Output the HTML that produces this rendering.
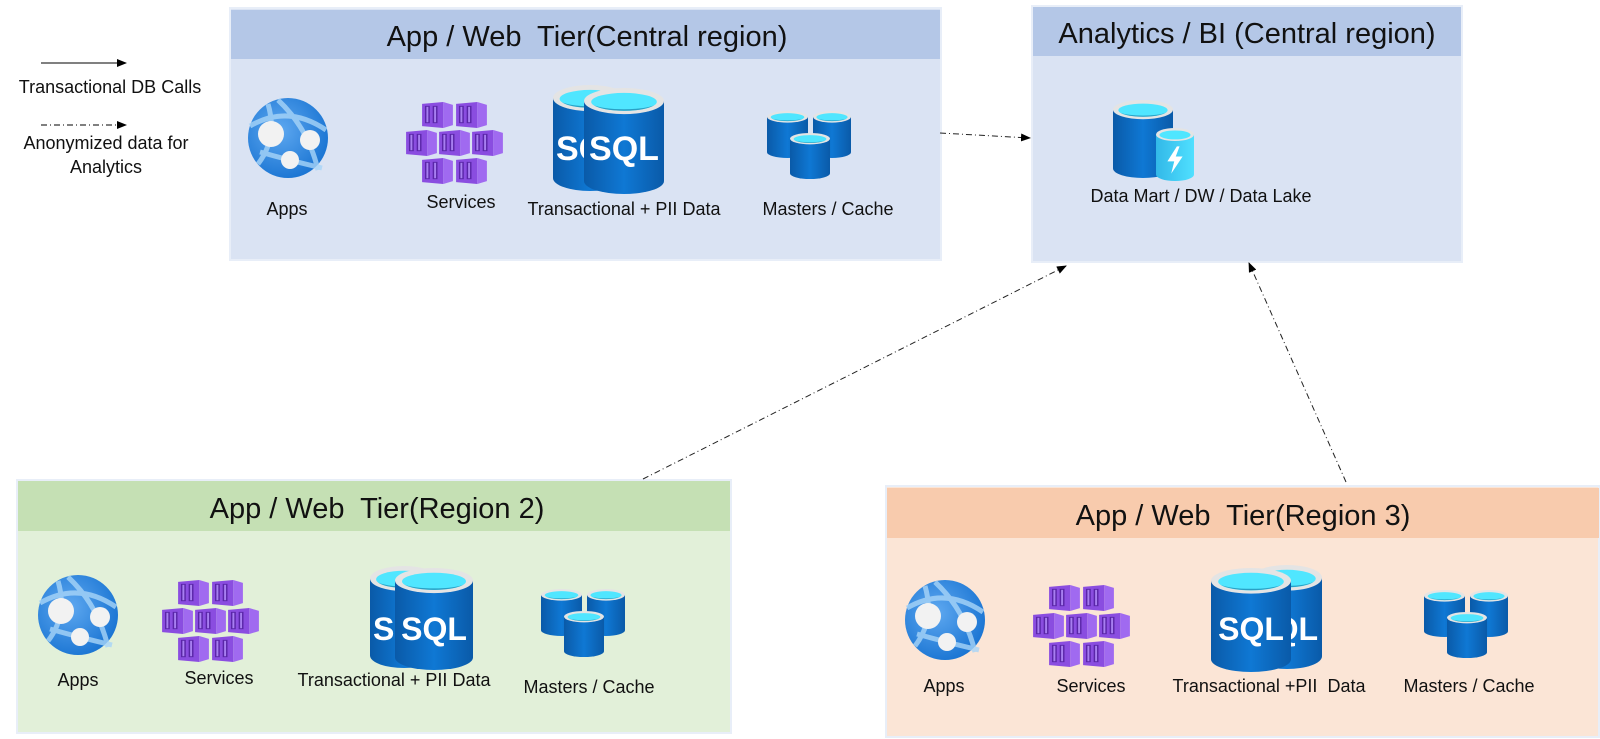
<!DOCTYPE html>
<html><head><meta charset="utf-8"><style>
html,body{margin:0;padding:0;background:#fff}
svg{display:block}
text{font-family:"Liberation Sans",sans-serif;fill:#111}
.h{font-size:29px;text-anchor:middle}
.l{font-size:18px;text-anchor:middle}
</style></head><body>
<svg width="1600" height="739" viewBox="0 0 1600 739" xmlns="http://www.w3.org/2000/svg">
<defs>
<linearGradient id="bg" x1="0" x2="1" y1="0" y2="0">
<stop offset="0" stop-color="#0a5aa8"/><stop offset="0.5" stop-color="#0f78d4"/><stop offset="1" stop-color="#0a5aa8"/></linearGradient>
<linearGradient id="cg" x1="0" x2="1" y1="0" y2="0">
<stop offset="0" stop-color="#32b8e8"/><stop offset="1" stop-color="#50e0ff"/></linearGradient>
<radialGradient id="gg" cx="0.4" cy="0.4" r="0.7"><stop offset="0" stop-color="#5ea8f0"/><stop offset="1" stop-color="#1470d0"/></radialGradient>
<symbol id="cyl" viewBox="0 0 100 130" preserveAspectRatio="none">
<path d="M0,16 L0,114 A50,16 0 0 0 100,114 L100,16 Z" fill="url(#bg)"/>
<ellipse cx="50" cy="16" rx="50" ry="16" fill="#e4e4e4"/>
<ellipse cx="50" cy="17" rx="41" ry="11" fill="#50e6ff"/>
<path d="M12,21 A41,8 0 0 0 88,21 A41,11 0 0 1 12,21Z" fill="#2a9fc4"/>
</symbol>
<symbol id="cylc" viewBox="0 0 100 130" preserveAspectRatio="none">
<path d="M0,16 L0,114 A50,16 0 0 0 100,114 L100,16 Z" fill="url(#cg)"/>
<ellipse cx="50" cy="16" rx="50" ry="16" fill="#e4e4e4"/>
<ellipse cx="50" cy="17" rx="41" ry="11" fill="#50e6ff"/>
<path d="M55,45 L30,82 L48,82 L40,112 L70,70 L52,70 L62,45Z" fill="#fff"/>
</symbol>
<symbol id="globe" viewBox="-41 -41 82 82">
<circle r="40" fill="url(#gg)"/>
<path d="M-38,-12 Q0,-34 38,-8 M-20,-34 Q-10,0 -30,26 M-28,14 Q0,22 34,30 M-10,-38 Q20,-10 30,32" stroke="#a8d4f8" stroke-width="5" fill="none" opacity="0.8"/>
<circle cx="-17" cy="-4" r="13" fill="#f2f2f2"/>
<circle cx="22" cy="2" r="10" fill="#f2f2f2"/>
<circle cx="2" cy="22" r="9" fill="#f2f2f2"/>
</symbol>
<symbol id="cube" viewBox="0 0 32 27">
<path d="M0,2 L22,0 L22,27 L0,25Z" fill="#8a4de0"/>
<path d="M22,0 L32,3 L32,24 L22,27Z" fill="#a06af0"/>
<rect x="3" y="4" width="5" height="18" fill="#5a26a8"/>
<rect x="11" y="4" width="5" height="18" fill="#5a26a8"/>
<rect x="4.5" y="5" width="2" height="16" fill="#a77ff0"/>
<rect x="12.5" y="5" width="2" height="16" fill="#a77ff0"/>
</symbol>
<symbol id="svc" viewBox="0 0 98 83">
<use href="#cube" x="16" y="0" width="31" height="26"/>
<use href="#cube" x="50" y="0" width="31" height="26"/>
<use href="#cube" x="0" y="28" width="31" height="26"/>
<use href="#cube" x="33" y="28" width="31" height="26"/>
<use href="#cube" x="66" y="28" width="31" height="26"/>
<use href="#cube" x="16" y="56" width="31" height="26"/>
<use href="#cube" x="50" y="56" width="31" height="26"/>
</symbol>
<symbol id="mst" viewBox="0 0 84 68">
<use href="#cyl" x="0" y="0" width="41" height="47"/>
<use href="#cyl" x="46" y="0" width="38" height="47"/>
<use href="#cyl" x="23" y="22" width="40" height="46"/>
</symbol>
<marker id="ah" markerWidth="10" markerHeight="8" refX="9" refY="4" orient="auto" markerUnits="userSpaceOnUse">
<path d="M0,0 L10,4 L0,8Z" fill="#000"/></marker>
</defs>

<!-- legend -->
<line x1="41" y1="63" x2="126" y2="63" stroke="#000" stroke-width="1" marker-end="url(#ah)"/>
<text class="l" x="110" y="93">Transactional DB Calls</text>
<line x1="41" y1="125" x2="126" y2="125" stroke="#000" stroke-width="1" stroke-dasharray="6,3,1,3" marker-end="url(#ah)"/>
<text class="l" x="106" y="149">Anonymized data for</text>
<text class="l" x="106" y="173">Analytics</text>

<!-- Central -->
<rect x="230" y="8" width="711" height="252" fill="#dae3f3" stroke="#e8eef8" stroke-width="2"/>
<rect x="231" y="10" width="709" height="49" fill="#b4c7e7"/>
<text class="h" x="587" y="46" xml:space="preserve">App / Web  Tier(Central region)</text>
<use href="#globe" x="247" y="97" width="82" height="82"/>
<use href="#svc" x="406" y="102" width="98" height="83"/>
<use href="#cyl" x="553" y="85" width="74" height="106"/>
<text x="556" y="160" font-size="34" font-weight="bold" style="fill:#fff">SQL</text>
<use href="#cyl" x="584" y="88" width="80" height="106"/>
<text x="624" y="160" font-size="34" font-weight="bold" text-anchor="middle" style="fill:#fff">SQL</text>
<use href="#mst" x="767" y="111" width="84" height="68"/>
<text class="l" x="287" y="215">Apps</text>
<text class="l" x="461" y="208">Services</text>
<text class="l" x="624" y="215">Transactional + PII Data</text>
<text class="l" x="828" y="215">Masters / Cache</text>

<!-- Analytics -->
<rect x="1032" y="6" width="430" height="256" fill="#dae3f3" stroke="#e8eef8" stroke-width="2"/>
<rect x="1033" y="7" width="428" height="49" fill="#b4c7e7"/>
<text class="h" x="1247" y="43">Analytics / BI (Central region)</text>
<use href="#cyl" x="1113" y="100" width="60" height="78"/>
<use href="#cylc" x="1156" y="128" width="38" height="53"/>
<text class="l" x="1201" y="202">Data Mart / DW / Data Lake</text>

<!-- Region 2 -->
<rect x="17" y="480" width="714" height="253" fill="#e2f0d9" stroke="#e8eef8" stroke-width="2"/>
<rect x="18" y="481" width="712" height="50" fill="#c5e0b4"/>
<text class="h" x="377" y="518" xml:space="preserve">App / Web  Tier(Region 2)</text>
<use href="#globe" x="37" y="574" width="82" height="82"/>
<use href="#svc" x="162" y="580" width="98" height="83"/>
<use href="#cyl" x="370" y="566" width="68" height="102"/>
<text x="373" y="640" font-size="32" font-weight="bold" style="fill:#fff">SQL</text>
<use href="#cyl" x="395" y="568" width="78" height="102"/>
<text x="434" y="640" font-size="32" font-weight="bold" text-anchor="middle" style="fill:#fff">SQL</text>
<use href="#mst" x="541" y="589" width="84" height="68"/>
<text class="l" x="78" y="686">Apps</text>
<text class="l" x="219" y="684">Services</text>
<text class="l" x="394" y="686">Transactional + PII Data</text>
<text class="l" x="589" y="693">Masters / Cache</text>

<!-- Region 3 -->
<rect x="886" y="486" width="713" height="251" fill="#fbe5d6" stroke="#e8eef8" stroke-width="2"/>
<rect x="887" y="488" width="712" height="50" fill="#f8cbad"/>
<text class="h" x="1243" y="525" xml:space="preserve">App / Web  Tier(Region 3)</text>
<use href="#globe" x="904" y="579" width="82" height="82"/>
<use href="#svc" x="1033" y="585" width="98" height="83"/>
<use href="#cyl" x="1252" y="565" width="70" height="104"/>
<text x="1318" y="640" font-size="32" font-weight="bold" text-anchor="end" style="fill:#fff">SQL</text>
<use href="#cyl" x="1211" y="568" width="80" height="104"/>
<text x="1251" y="640" font-size="32" font-weight="bold" text-anchor="middle" style="fill:#fff">SQL</text>
<use href="#mst" x="1424" y="590" width="84" height="68"/>
<text class="l" x="944" y="692">Apps</text>
<text class="l" x="1091" y="692">Services</text>
<text class="l" x="1269" y="692" xml:space="preserve">Transactional +PII  Data</text>
<text class="l" x="1469" y="692">Masters / Cache</text>

<!-- connectors -->
<g stroke="#222" stroke-width="1" stroke-dasharray="6,3,1,3" fill="none">
<line x1="940" y1="133" x2="1030" y2="138" marker-end="url(#ah)"/>
<line x1="643" y1="479" x2="1066" y2="266" marker-end="url(#ah)"/>
<line x1="1346" y1="482" x2="1249" y2="263" marker-end="url(#ah)"/>
</g>
</svg>
</body></html>
